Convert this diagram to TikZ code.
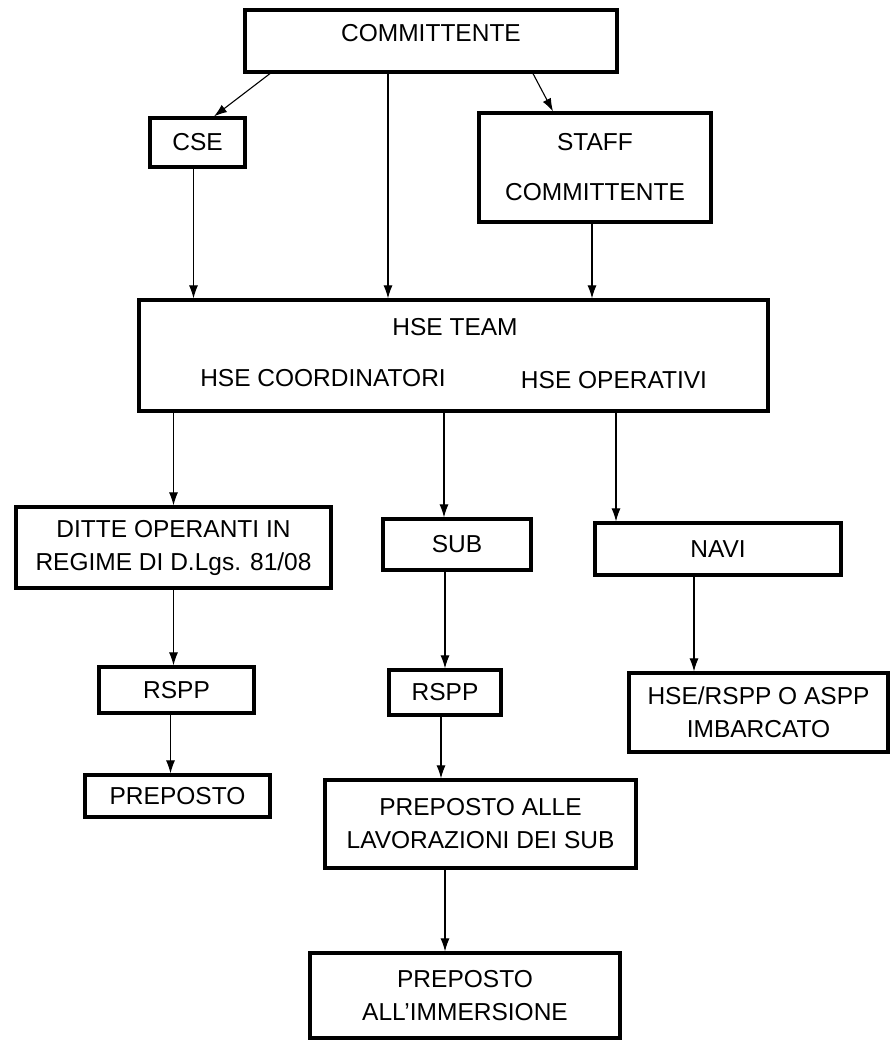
\documentclass[tikz,border=0pt]{standalone}
\usepackage{fontspec}
\setmainfont{Liberation Sans}
\usetikzlibrary{arrows.meta}
\begin{document}
\begin{tikzpicture}[x=1pt,y=-1pt,
  box/.style={draw, rectangle, align=center, line width=3.2pt, inner sep=0pt},
  txt/.style={align=center, inner sep=0pt},
  link/.style={-{Latex[length=13pt,width=9pt]}, line width=1.1pt},
  every node/.style={font=\fontsize{24.5}{33}\selectfont}]
\useasboundingbox (0,0) rectangle (891,1043);
\node[box, minimum width=372pt, minimum height=62pt] (comm) at (431,41) {\raisebox{8pt}[\height][\depth]{COMMITTENTE}};
\node[box, minimum width=95pt, minimum height=49pt] (cse) at (197.5,142.5) {CSE};
\node[box, minimum width=232pt, minimum height=109pt] (staff) at (595,167.5) {STAFF\\[17pt]COMMITTENTE};
\node[box, minimum width=629pt, minimum height=111pt] (hse) at (453.5,355.5) {};
\node[txt] (hseteam) at (455,327) {HSE TEAM};
\node[txt] (hsecoord) at (323,378) {HSE COORDINATORI};
\node[txt] (hseop) at (614,380) {HSE OPERATIVI};
\node[box, minimum width=315pt, minimum height=81pt] (ditte) at (173.5,547.5) {DITTE OPERANTI IN\\REGIME DI D.Lgs. 81/08};
\node[box, minimum width=148pt, minimum height=51pt] (sub) at (457,544.5) {SUB};
\node[box, minimum width=246pt, minimum height=52pt] (navi) at (718,549) {NAVI};
\node[box, minimum width=155pt, minimum height=46pt] (rsppa) at (176.5,690) {RSPP};
\node[box, minimum width=112pt, minimum height=45pt] (rsppb) at (445,692.5) {RSPP};
\node[box, minimum width=259pt, minimum height=79pt] (imb) at (758.5,712.5) {HSE/RSPP O ASPP\\IMBARCATO};
\node[box, minimum width=185pt, minimum height=42pt] (prep) at (177.5,796) {PREPOSTO};
\node[box, minimum width=311pt, minimum height=88pt] (prepsub) at (480.5,824) {PREPOSTO ALLE\\LAVORAZIONI DEI SUB};
\node[box, minimum width=310pt, minimum height=85pt] (immer) at (465,995.5) {PREPOSTO\\ALL’IMMERSIONE};
\draw[link] ([xshift=-161pt]comm.south) -- ([xshift=16.5pt]cse.north);
\draw[link] ([xshift=-43pt]comm.south) -- ([xshift=-43pt]comm.south |- hse.north);
\draw[link] ([xshift=102pt]comm.south) -- ([xshift=-42pt]staff.north);
\draw[link] ([xshift=-4pt]cse.south) -- ([xshift=-4pt]cse.south |- hse.north);
\draw[link] ([xshift=-3pt]staff.south) -- ([xshift=-3pt]staff.south |- hse.north);
\draw[link] (ditte.north |- hse.south) -- (ditte.north);
\draw[link] ([xshift=-13pt]sub.north |- hse.south) -- ([xshift=-13pt]sub.north);
\draw[link] ([xshift=-102pt]navi.north |- hse.south) -- ([xshift=-102pt]navi.north);
\draw[link] (ditte.south) -- (ditte.south |- rsppa.north);
\draw[link] ([xshift=-6pt]rsppa.south) -- ([xshift=-6pt]rsppa.south |- prep.north);
\draw[link] (rsppb.north |- sub.south) -- (rsppb.north);
\draw[link] ([xshift=-4pt]rsppb.south) -- ([xshift=-4pt]rsppb.south |- prepsub.north);
\draw[link] ([xshift=-20pt]immer.north |- prepsub.south) -- ([xshift=-20pt]immer.north);
\draw[link] ([xshift=-24pt]navi.south) -- ([xshift=-24pt]navi.south |- imb.north);
\end{tikzpicture}
\end{document}
